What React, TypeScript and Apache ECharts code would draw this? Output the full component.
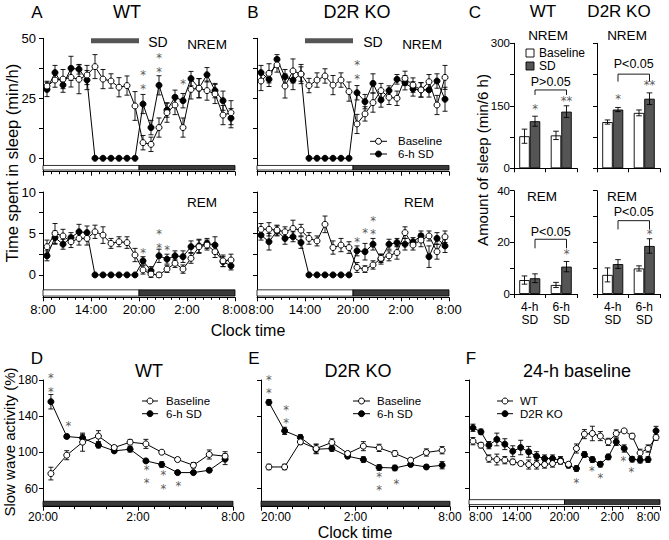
import React, { useEffect, useRef } from 'react';
import * as echarts from 'echarts';

const FONT = '"Liberation Sans", Arial, Helvetica, sans-serif';
const STAR_FONT = '"DejaVu Sans", "Liberation Sans", sans-serif';

// ---------- x positions (hour mid-points) ----------
const HOURS_24 = [0.5, 1.5, 2.5, 3.5, 4.5, 5.5, 6.5, 7.5, 8.5, 9.5, 10.5, 11.5, 12.5, 13.5, 14.5, 15.5, 16.5, 17.5, 18.5, 19.5, 20.5, 21.5, 22.5, 23.5];
const HOURS_12 = [0.5, 1.5, 2.5, 3.5, 4.5, 5.5, 6.5, 7.5, 8.5, 9.5, 10.5, 11.5];
const TICKS_24 = ['8:00', '14:00', '20:00', '2:00', '8:00'];
const TICKS_12 = ['20:00', '2:00', '8:00'];

// ---------- Panel A (WT) ----------
const A_NREM_BASE = [30.1, 32.6, 33.0, 33.7, 32.9, 34.7, 38.2, 33.0, 32.2, 29.6, 30.3, 21.8, 6.5, 5.8, 12.8, 19.0, 22.2, 12.8, 28.7, 29.2, 28.2, 26.8, 18.0, 19.0];
const A_NREM_BASE_ERR = [2, 3, 4, 4, 6, 4, 5, 4, 3, 4, 4, 6, 3, 3, 4, 4, 4, 4, 4, 4, 4, 4, 4, 5];
const A_NREM_SD = [28.7, 35.7, 30.5, 37.5, 37.1, 32.6, 0, 0, 0, 0, 0, 0, 22.6, 12.8, 30.4, 20.1, 25.4, 24.0, 33.2, 29.2, 34.8, 28.2, 24.0, 16.7];
const A_NREM_SD_ERR = [3, 3, 3, 5, 2, 4, 0, 0, 0, 0, 0, 0, 4, 3, 4, 3, 3, 3, 3, 4, 3, 3, 4, 4];
// [x, centre value, number of stacked asterisks]
const A_NREM_STARS = [[12.5, 32.8, 2], [14.5, 39.9, 2], [17.5, 32.2, 1]];

const A_REM_BASE = [3.4, 5.0, 4.7, 4.0, 4.4, 4.4, 5.2, 4.8, 3.8, 4.0, 3.9, 2.4, 0.6, 0.1, 0.0, 0.7, 1.4, 0.7, 2.0, 3.4, 3.6, 2.8, 1.7, 1.8];
const A_REM_BASE_ERR = [0.8, 1.2, 0.8, 0.7, 0.8, 0.8, 0.8, 1.0, 0.6, 0.6, 0.7, 0.8, 0.5, 0.4, 0.3, 0.4, 0.5, 0.5, 0.6, 0.8, 0.6, 0.7, 0.7, 0.7];
const A_REM_SD = [2.3, 4.5, 3.7, 4.5, 5.2, 5.1, 0, 0, 0, 0, 0, 0, 1.7, 0.5, 2.3, 1.9, 2.3, 2.2, 3.4, 3.5, 3.8, 3.6, 1.6, 1.1];
const A_REM_SD_ERR = [0.6, 0.8, 0.6, 0.6, 0.9, 0.8, 0, 0, 0, 0, 0, 0, 0.5, 0.5, 0.8, 0.6, 0.6, 0.7, 0.7, 0.8, 0.6, 1.0, 0.6, 0.5];
const A_REM_STARS = [[12.5, 3.0, 1], [14.5, 4.4, 2], [15.5, 3.3, 1]];

// ---------- Panel B (D2R KO) ----------
const B_NREM_BASE = [32.2, 35.4, 38.9, 30.1, 36.4, 35.1, 30.3, 32.6, 34.3, 30.5, 32.6, 27.8, 14.3, 18.5, 23.2, 28.2, 25.4, 25.0, 33.3, 30.5, 28.5, 31.9, 22.2, 33.7];
const B_NREM_BASE_ERR = [4, 4, 3, 5, 5, 4, 3, 3, 3, 4, 3, 4, 4, 3, 4, 3, 3, 3, 3, 3, 3, 3, 4, 5];
const B_NREM_SD = [35.7, 32.9, 41.2, 34.0, 32.6, 35.1, 0, 0, 0, 0, 0, 0, 27.3, 23.6, 31.2, 24.3, 28.2, 32.9, 31.5, 28.9, 28.5, 28.5, 32.2, 24.6];
const B_NREM_SD_ERR = [3, 3, 2, 3, 4, 3, 0, 0, 0, 0, 0, 0, 3, 3, 4, 3, 2, 2, 3, 3, 3, 3, 3, 5];
const B_NREM_STARS = [[12.5, 37.0, 2]];

const B_REM_BASE = [5.5, 5.5, 5.4, 5.2, 5.6, 5.4, 4.4, 4.1, 6.1, 3.3, 3.6, 3.3, 0.9, 0.7, 1.2, 2.0, 2.3, 2.7, 5.1, 3.6, 4.2, 4.7, 2.8, 4.6];
const B_REM_BASE_ERR = [0.7, 0.8, 0.6, 0.6, 1.0, 0.7, 0.7, 0.6, 1.0, 0.8, 0.8, 0.7, 0.6, 0.4, 0.5, 0.5, 0.6, 0.8, 0.7, 0.6, 0.8, 0.6, 0.9, 0.7];
const B_REM_SD = [4.8, 4.0, 5.3, 4.4, 4.6, 3.9, 0, 0, 0, 0, 0, 0, 2.9, 2.8, 3.7, 1.9, 3.7, 3.9, 3.7, 4.0, 4.7, 2.2, 4.4, 3.5];
const B_REM_SD_ERR = [0.6, 1.0, 0.6, 0.7, 0.6, 0.7, 0, 0, 0, 0, 0, 0, 0.6, 1.0, 0.7, 0.6, 0.6, 0.5, 0.7, 0.5, 0.6, 1.3, 0.7, 0.8];
const B_REM_STARS = [[12.5, 4.3, 1], [13.5, 5.4, 1], [14.5, 6.0, 2]];

// ---------- Panel C (amount of sleep, min/6 h) ----------
const C_CATS = ['4-h\nSD', '6-h\nSD'];
const C_WT_NREM_BASE = [77, 79];
const C_WT_NREM_BASE_ERR = [17, 10];
const C_WT_NREM_SD = [113, 136];
const C_WT_NREM_SD_ERR = [12, 14];
const C_KO_NREM_BASE = [111, 133];
const C_KO_NREM_BASE_ERR = [5, 7];
const C_KO_NREM_SD = [141, 167];
const C_KO_NREM_SD_ERR = [5, 14];
const C_WT_REM_BASE = [5.4, 3.5];
const C_WT_REM_BASE_ERR = [1.6, 1.0];
const C_WT_REM_SD = [6.1, 10.6];
const C_WT_REM_SD_ERR = [1.7, 2.0];
const C_KO_REM_BASE = [7.4, 9.9];
const C_KO_REM_BASE_ERR = [2.7, 1.0];
const C_KO_REM_SD = [11.6, 18.6];
const C_KO_REM_SD_ERR = [1.7, 2.8];
// P-value bracket: [top, end], text height, text, asterisks above SD bars
const C_P_TEXT = ['P>0.05', 'P<0.05', 'P<0.05', 'P<0.05'];
const C_BRACKET = [[188, 176], [226, 208], [21.2, 17.7], [28.4, 25.0]];
const C_P_Y = [208, 250, 24.1, 31.6];
const C_STARS = [[['*', 149], ['**', 168]], [['*', 173], ['**', 205]], [['', 0], ['*', 16.4]], [['', 0], ['*', 24.1]]];

// ---------- Panel D / E (SWA after SD) ----------
const D_BASE = [76.6, 96.9, 111.3, 118.0, 105.4, 111.3, 109.4, 100.2, 92.1, 85.8, 97.7, 95.8];
const D_BASE_ERR = [7, 5, 10, 6, 2, 3, 5, 2, 2, 3, 5, 5];
const D_SD = [156.0, 117.6, 116.0, 108.0, 101.7, 103.5, 90.6, 86.6, 77.7, 77.7, 80.3, 92.5];
const D_SD_ERR = [8, 2, 4, 3, 2, 3, 2, 3, 2, 2, 2, 6];
const D_STARS = [[0.5, 177.6, 2], [1.6, 132, 1], [6.55, 76, 2], [7.6, 69.8, 2], [8.55, 65.5, 1]];

const E_BASE = [83.9, 83.9, 111.6, 104.3, 111.0, 98.8, 106.9, 105.0, 98.8, 91.4, 99.9, 102.4];
const E_BASE_ERR = [3, 3, 3, 5, 4, 2, 5, 4, 3, 2, 4, 4];
const E_SD = [155.3, 123.8, 116.5, 103.5, 104.3, 95.8, 92.1, 83.3, 82.8, 86.6, 83.9, 85.8];
const E_SD_ERR = [3, 4, 3, 5, 3, 2, 3, 3, 3, 2, 2, 4];
const E_STARS = [[0.5, 175.8, 2], [1.6, 142.5, 2], [7.5, 68.3, 2], [8.6, 68.4, 1]];

// ---------- Panel F (24-h baseline SWA) ----------
const F_WT = [112.4, 108.0, 93.2, 92.1, 91.4, 89.5, 87.7, 86.6, 86.6, 86.6, 87.7, 90.2, 86.9, 104.3, 120.2, 120.9, 118.0, 111.6, 120.9, 123.8, 118.0, 99.5, 104.3, 116.5];
const F_WT_ERR = [4, 3, 4, 6, 4, 3, 2, 5, 5, 4, 4, 3, 2, 5, 5, 8, 5, 4, 4, 2, 3, 4, 4, 3];
const F_KO = [127.2, 122.7, 108.0, 114.3, 109.1, 101.3, 105.4, 100.6, 95.8, 93.2, 93.2, 91.4, 85.8, 82.2, 97.7, 92.1, 86.9, 95.0, 111.6, 104.3, 92.5, 91.4, 92.1, 123.8];
const F_KO_ERR = [4, 3, 4, 7, 6, 6, 8, 6, 5, 4, 4, 4, 3, 3, 3, 3, 3, 3, 4, 4, 3, 3, 3, 5];
const F_STARS = [[13.5, 69.2, 1], [15.45, 82.2, 1], [16.5, 74.7, 1], [19.4, 93.2, 1], [20.4, 81, 1]];

// ---------- layout ----------
const GRIDS = [
  { left: 43, top: 38.3, width: 192, height: 133.4 }, // 0 A NREM
  { left: 43, top: 192, width: 192, height: 105.3 }, // 1 A REM
  { left: 257, top: 38.3, width: 192, height: 133.4 }, // 2 B NREM
  { left: 257, top: 192, width: 192, height: 105.3 }, // 3 B REM
  { left: 514, top: 43.3, width: 63, height: 125 }, // 4 C WT NREM
  { left: 597, top: 43.3, width: 63, height: 125 }, // 5 C KO NREM
  { left: 514, top: 190.7, width: 63, height: 103.3 }, // 6 C WT REM
  { left: 597, top: 190.7, width: 63, height: 103.3 }, // 7 C KO REM
  { left: 43, top: 380, width: 190, height: 126.7 }, // 8 D
  { left: 261, top: 380, width: 189, height: 126.7 }, // 9 E
  { left: 469, top: 380, width: 191, height: 126.7 }, // 10 F
];

const BW = 10.5;
const BLACK = '#000';
const STAR_COLOR = '#5a5a5a';
const DARK = '#3a3a3a';
const BAR_DARK = '#555';
const STAR_FS = 11.5;
const STAR_GAP = 13.6;
const LEG_FS = 11.5;

const axisLine = { show: true, onZero: false, lineStyle: { color: BLACK, width: 1 } };

function xTime(gi: number, hours: number, ticks: string[], showLabels: boolean, fs: number, margin: number, opts: any = {}) {
  const { alignMin, alignMax, padMin } = opts;
  const label: any = {
    show: showLabels, fontSize: fs, color: BLACK, fontFamily: FONT, margin,
    formatter: (v: number) => {
      const t = ticks[Math.round(v / 6)] ?? '';
      return padMin && v === 0 ? `{m|${t}}` : t;
    },
  };
  if (padMin) label.rich = { m: { fontSize: fs, fontFamily: FONT, color: BLACK, padding: [0, 0, 0, padMin] } };
  if (alignMin) label.alignMinLabel = alignMin;
  if (alignMax) label.alignMaxLabel = alignMax;
  return {
    type: 'value', gridIndex: gi, min: 0, max: hours, interval: 6,
    axisLine,
    axisTick: { show: true, length: 4, lineStyle: { color: BLACK, width: 1 } },
    minorTick: { show: true, splitNumber: 6, length: 2.5, lineStyle: { color: BLACK, width: 1 } },
    splitLine: { show: false },
    axisLabel: label,
  };
}

function yVal(gi: number, min: number, max: number, labels: number[], ticks: number[], showLabels: boolean, fs: number, margin: number) {
  return {
    type: 'value', gridIndex: gi, min, max,
    axisLine,
    axisTick: { show: true, length: 4, customValues: ticks, lineStyle: { color: BLACK, width: 1 } },
    splitLine: { show: false },
    axisLabel: { show: showLabels, customValues: labels, fontSize: fs, color: BLACK, fontFamily: FONT, margin },
  };
}

function xCat(gi: number, showLabels: boolean) {
  return {
    type: 'category', gridIndex: gi, data: C_CATS,
    axisLine: { show: true, lineStyle: { color: BLACK, width: 1 } },
    axisTick: { show: true, length: 4, lineStyle: { color: BLACK, width: 1 } },
    splitLine: { show: false },
    axisLabel: { show: showLabels, fontSize: 12, lineHeight: 13.5, color: BLACK, fontFamily: FONT, margin: 6 },
  };
}

function lineSeries(name: string, gi: number, xs: number[], vals: number[], filled: boolean, markArea?: any) {
  const s: any = {
    type: 'line', name, xAxisIndex: gi, yAxisIndex: gi,
    data: xs.map((x, i) => [x, vals[i]]),
    symbol: 'circle', symbolSize: 6, showSymbol: true, silent: true,
    lineStyle: { color: BLACK, width: 1 },
    itemStyle: { color: filled ? BLACK : '#fff', borderColor: BLACK, borderWidth: 1 },
    z: filled ? 3 : 4,
  };
  if (markArea) s.markArea = markArea;
  return s;
}

function errSeries(gi: number, xs: number[], vals: number[], errs: number[]) {
  return {
    type: 'custom', xAxisIndex: gi, yAxisIndex: gi, silent: true, z: 2, clip: false,
    data: xs.map((x, i) => [x, vals[i], errs[i]]),
    encode: { x: 0, y: 1 },
    renderItem: (_p: any, api: any) => {
      const x = api.value(0), v = api.value(1), e = api.value(2);
      if (!e) return { type: 'group', children: [] };
      const a = api.coord([x, v + e]);
      const b = api.coord([x, v - e]);
      const st = { stroke: BLACK, lineWidth: 0.9 };
      const cap = 2.5;
      return {
        type: 'group', children: [
          { type: 'line', shape: { x1: a[0], y1: a[1], x2: b[0], y2: b[1] }, style: st },
          { type: 'line', shape: { x1: a[0] - cap, y1: a[1], x2: a[0] + cap, y2: a[1] }, style: st },
          { type: 'line', shape: { x1: b[0] - cap, y1: b[1], x2: b[0] + cap, y2: b[1] }, style: st },
        ],
      };
    },
  };
}

function starText(text: string, x: number, y: number) {
  return {
    type: 'text', x, y: y + STAR_FS * 0.22,
    style: { text, fontSize: STAR_FS, fontFamily: STAR_FONT, fill: STAR_COLOR, align: 'center', verticalAlign: 'middle' },
  };
}

function starSeries(gi: number, pts: number[][]) {
  return {
    type: 'custom', xAxisIndex: gi, yAxisIndex: gi, silent: true, z: 6, clip: false,
    data: pts, encode: { x: 0, y: 1 },
    renderItem: (_p: any, api: any) => {
      const c = api.coord([api.value(0), api.value(1)]);
      const n = api.value(2);
      const children: any[] = [];
      for (let k = 0; k < n; k++) {
        children.push(starText('*', c[0], c[1] + (k - (n - 1) / 2) * STAR_GAP));
      }
      return { type: 'group', children };
    },
  };
}

function dayNight(segs: [number, number, number, number, string][]) {
  return {
    silent: true,
    data: segs.map(([x0, x1, y0, y1, color]) => [
      { xAxis: x0, yAxis: y1, itemStyle: { color, borderColor: BLACK, borderWidth: 0.8 } },
      { xAxis: x1, yAxis: y0 },
    ]),
  };
}

function sdBar(gi: number) {
  return {
    type: 'line', xAxisIndex: gi, yAxisIndex: gi, silent: true, symbol: 'none', z: 2,
    data: [[6, 49], [12, 49]],
    lineStyle: { color: BAR_DARK, width: 5, cap: 'butt' },
  };
}

function barPanel(gi: number, base: number[], baseErr: number[], sd: number[], sdErr: number[], note: number) {
  const errData: number[][] = [];
  base.forEach((v, i) => errData.push([i, v, baseErr[i], -1]));
  sd.forEach((v, i) => errData.push([i, v, sdErr[i], 1]));
  const [bTop, bEnd] = C_BRACKET[note];
  const stars = C_STARS[note];
  return [
    {
      type: 'bar', name: 'Baseline', xAxisIndex: gi, yAxisIndex: gi, data: base, barWidth: BW, barGap: '0%', silent: true,
      itemStyle: { color: '#fff', borderColor: BLACK, borderWidth: 0.9 }, z: 2,
    },
    {
      type: 'bar', name: 'SD', xAxisIndex: gi, yAxisIndex: gi, data: sd, barWidth: BW, barGap: '0%', silent: true,
      itemStyle: { color: BAR_DARK, borderColor: BLACK, borderWidth: 0.9 }, z: 2,
    },
    {
      type: 'custom', xAxisIndex: gi, yAxisIndex: gi, silent: true, z: 3, clip: false,
      data: errData, encode: { x: 0, y: 1 },
      renderItem: (_p: any, api: any) => {
        const c = api.value(0), v = api.value(1), e = api.value(2), s = api.value(3);
        const a = api.coord([c, v + e]);
        const b = api.coord([c, v - e]);
        const x = a[0] + s * BW / 2;
        const st = { stroke: BLACK, lineWidth: 0.9 };
        const cap = 2.8;
        return {
          type: 'group', children: [
            { type: 'line', shape: { x1: x, y1: a[1], x2: x, y2: b[1] }, style: st },
            { type: 'line', shape: { x1: x - cap, y1: a[1], x2: x + cap, y2: a[1] }, style: st },
            { type: 'line', shape: { x1: x - cap, y1: b[1], x2: x + cap, y2: b[1] }, style: st },
          ],
        };
      },
    },
    {
      type: 'custom', xAxisIndex: gi, yAxisIndex: gi, silent: true, z: 4, clip: false,
      data: [[0, bTop]], encode: { x: 0, y: 1 },
      renderItem: (_p: any, api: any) => {
        const x0 = api.coord([0, bTop])[0] + BW / 2;
        const x1 = api.coord([1, bTop])[0] + BW / 2;
        const yT = api.coord([0, bTop])[1];
        const yE = api.coord([0, bEnd])[1];
        const yP = api.coord([0, C_P_Y[note]])[1];
        const children: any[] = [
          { type: 'polyline', shape: { points: [[x0, yE], [x0, yT], [x1, yT], [x1, yE]] }, style: { stroke: BLACK, lineWidth: 0.9, fill: 'none' } },
          { type: 'text', x: (x0 + x1) / 2, y: yP, style: { text: C_P_TEXT[note], fontSize: 12.5, fontFamily: FONT, fill: BLACK, align: 'center', verticalAlign: 'middle' } },
        ];
        stars.forEach(([t, val], i) => {
          if (!t) return;
          const p = api.coord([i, val as number]);
          children.push(starText(t as string, p[0] + BW / 2, p[1]));
        });
        return { type: 'group', children };
      },
    },
  ];
}

function txt(text: string, x: number, y: number, fs: number, extra: any = {}) {
  return {
    type: 'text', x, y, silent: true,
    style: { text, fontSize: fs, fontFamily: FONT, fill: BLACK, align: 'center', verticalAlign: 'middle', ...extra },
  };
}
function vtxt(text: string, x: number, y: number, fs: number) {
  return { ...txt(text, x, y, fs), rotation: Math.PI / 2 };
}
function legendLine(x1: number, x2: number, tx: number, y: number, filled: boolean, label: string) {
  return [
    { type: 'line', silent: true, shape: { x1, y1: y, x2, y2: y }, style: { stroke: BLACK, lineWidth: 1 } },
    { type: 'circle', silent: true, shape: { cx: (x1 + x2) / 2, cy: y, r: 3 }, style: { fill: filled ? BLACK : '#fff', stroke: BLACK, lineWidth: 1 } },
    txt(label, tx, y, LEG_FS, { align: 'left' }),
  ];
}

function buildOption() {
  const ldTop24 = (yTop: number, yBot: number) => dayNight([[0, 12, yBot, yTop, '#fff'], [12, 24, yBot, yTop, DARK]]);
  const series: any[] = [
    // A NREM
    errSeries(0, HOURS_24, A_NREM_SD, A_NREM_SD_ERR),
    errSeries(0, HOURS_24, A_NREM_BASE, A_NREM_BASE_ERR),
    lineSeries('6-h SD', 0, HOURS_24, A_NREM_SD, true),
    lineSeries('Baseline', 0, HOURS_24, A_NREM_BASE, false, ldTop24(-3.0, -4.9)),
    sdBar(0),
    starSeries(0, A_NREM_STARS),
    // A REM
    errSeries(1, HOURS_24, A_REM_SD, A_REM_SD_ERR),
    errSeries(1, HOURS_24, A_REM_BASE, A_REM_BASE_ERR),
    lineSeries('6-h SD', 1, HOURS_24, A_REM_SD, true),
    lineSeries('Baseline', 1, HOURS_24, A_REM_BASE, false, ldTop24(-1.8, -2.55)),
    starSeries(1, A_REM_STARS),
    // B NREM
    errSeries(2, HOURS_24, B_NREM_SD, B_NREM_SD_ERR),
    errSeries(2, HOURS_24, B_NREM_BASE, B_NREM_BASE_ERR),
    lineSeries('6-h SD', 2, HOURS_24, B_NREM_SD, true),
    lineSeries('Baseline', 2, HOURS_24, B_NREM_BASE, false, ldTop24(-3.0, -4.9)),
    sdBar(2),
    starSeries(2, B_NREM_STARS),
    // B REM
    errSeries(3, HOURS_24, B_REM_SD, B_REM_SD_ERR),
    errSeries(3, HOURS_24, B_REM_BASE, B_REM_BASE_ERR),
    lineSeries('6-h SD', 3, HOURS_24, B_REM_SD, true),
    lineSeries('Baseline', 3, HOURS_24, B_REM_BASE, false, ldTop24(-1.8, -2.55)),
    starSeries(3, B_REM_STARS),
    // C
    ...barPanel(4, C_WT_NREM_BASE, C_WT_NREM_BASE_ERR, C_WT_NREM_SD, C_WT_NREM_SD_ERR, 0),
    ...barPanel(5, C_KO_NREM_BASE, C_KO_NREM_BASE_ERR, C_KO_NREM_SD, C_KO_NREM_SD_ERR, 1),
    ...barPanel(6, C_WT_REM_BASE, C_WT_REM_BASE_ERR, C_WT_REM_SD, C_WT_REM_SD_ERR, 2),
    ...barPanel(7, C_KO_REM_BASE, C_KO_REM_BASE_ERR, C_KO_REM_SD, C_KO_REM_SD_ERR, 3),
    // D
    errSeries(8, HOURS_12, D_BASE, D_BASE_ERR),
    errSeries(8, HOURS_12, D_SD, D_SD_ERR),
    lineSeries('Baseline', 8, HOURS_12, D_BASE, false, dayNight([[0, 12, 41, 46, DARK]])),
    lineSeries('6-h SD', 8, HOURS_12, D_SD, true),
    starSeries(8, D_STARS),
    // E
    errSeries(9, HOURS_12, E_BASE, E_BASE_ERR),
    errSeries(9, HOURS_12, E_SD, E_SD_ERR),
    lineSeries('Baseline', 9, HOURS_12, E_BASE, false, dayNight([[0, 12, 41, 46, DARK]])),
    lineSeries('6-h SD', 9, HOURS_12, E_SD, true),
    starSeries(9, E_STARS),
    // F
    errSeries(10, HOURS_24, F_WT, F_WT_ERR),
    errSeries(10, HOURS_24, F_KO, F_KO_ERR),
    lineSeries('WT', 10, HOURS_24, F_WT, false, dayNight([[0, 12, 42.3, 47.8, '#fff'], [12, 24, 42.3, 47.8, DARK]])),
    lineSeries('D2R KO', 10, HOURS_24, F_KO, true),
    starSeries(10, F_STARS),
  ];

  const xAxis = [
    xTime(0, 24, TICKS_24, false, 13, 6),
    xTime(1, 24, TICKS_24, true, 13, 6),
    xTime(2, 24, TICKS_24, false, 13, 6),
    xTime(3, 24, TICKS_24, true, 13, 6, { padMin: 8 }),
    xCat(4, false), xCat(5, false), xCat(6, true), xCat(7, true),
    xTime(8, 12, TICKS_12, true, 12, 4),
    xTime(9, 12, TICKS_12, true, 12, 4, { alignMin: 'left' }),
    xTime(10, 24, TICKS_24, true, 12, 4, { alignMin: 'left', alignMax: 'right' }),
  ];
  const yAxis = [
    yVal(0, -5.6, 50, [0, 25, 50], [0, 12.5, 25, 37.5, 50], true, 13, 7),
    yVal(1, -2.7, 10, [0, 5, 10], [0, 2.5, 5, 7.5, 10], true, 13, 7),
    yVal(2, -5.6, 50, [0, 25, 50], [0, 12.5, 25, 37.5, 50], false, 13, 7),
    yVal(3, -2.7, 10, [0, 5, 10], [0, 2.5, 5, 7.5, 10], false, 13, 7),
    yVal(4, 0, 300, [0, 150, 300], [0, 75, 150, 225, 300], true, 11.5, 4),
    yVal(5, 0, 300, [0, 150, 300], [0, 75, 150, 225, 300], false, 11.5, 4),
    yVal(6, 0, 40, [0, 20, 40], [0, 10, 20, 30, 40], true, 11.5, 4),
    yVal(7, 0, 40, [0, 20, 40], [0, 10, 20, 30, 40], false, 11.5, 4),
    yVal(8, 40, 180, [60, 100, 140, 180], [60, 100, 140, 180], true, 12, 5),
    yVal(9, 40, 180, [60, 100, 140, 180], [60, 100, 140, 180], false, 12, 5),
    yVal(10, 40, 180, [60, 100, 140, 180], [60, 100, 140, 180], false, 12, 5),
  ];

  const graphic: any[] = [
    // panel letters & titles
    txt('A', 37, 12, 17), txt('WT', 127, 12, 18),
    txt('B', 253, 12, 17), txt('D2R KO', 357, 12, 18),
    txt('C', 475, 12, 17), txt('WT', 543, 11, 17), txt('D2R KO', 619, 11, 17),
    txt('D', 37, 358, 17), txt('WT', 149, 371, 18),
    txt('E', 254, 358, 17), txt('D2R KO', 358, 371, 18),
    txt('F', 471, 358, 17), txt('24-h baseline', 577, 371, 18),
    // in-panel labels
    txt('SD', 158, 42, 14), txt('NREM', 207, 44, 13.5),
    txt('SD', 373, 42, 14), txt('NREM', 422, 44, 13.5),
    txt('REM', 202, 202, 13.5), txt('REM', 419, 202, 13.5),
    txt('NREM', 548, 35, 13.5), txt('NREM', 627, 35, 13.5),
    txt('REM', 542, 196, 13.5), txt('REM', 622, 196, 13.5),
    // axis titles
    txt('Clock time', 248, 330, 16), txt('Clock time', 355, 532, 16),
    vtxt('Time spent in sleep (min/h)', 12, 163, 16.5),
    vtxt('Amount of sleep (min/6 h)', 482, 160, 15),
    vtxt('Slow wave activity (%)', 9, 442, 15),
    // legends
    ...legendLine(370, 387, 398, 141.3, false, 'Baseline'),
    ...legendLine(370, 387, 398, 154, true, '6-h SD'),
    ...legendLine(142, 158, 166, 401, false, 'Baseline'),
    ...legendLine(142, 158, 166, 413.7, true, '6-h SD'),
    ...legendLine(353, 370, 377, 401, false, 'Baseline'),
    ...legendLine(353, 370, 377, 413.7, true, '6-h SD'),
    ...legendLine(497, 513, 520, 401, false, 'WT'),
    ...legendLine(497, 513, 520, 413.7, true, 'D2R KO'),
    { type: 'rect', silent: true, shape: { x: 526, y: 49, width: 8, height: 8 }, style: { fill: '#fff', stroke: BLACK, lineWidth: 0.9 } },
    txt('Baseline', 539, 53, LEG_FS + 0.5, { align: 'left' }),
    { type: 'rect', silent: true, shape: { x: 526, y: 62, width: 8, height: 8 }, style: { fill: BAR_DARK, stroke: BLACK, lineWidth: 0.9 } },
    txt('SD', 539, 66, LEG_FS + 0.5, { align: 'left' }),
  ];

  return {
    animation: false,
    backgroundColor: '#fff',
    textStyle: { fontFamily: FONT, color: BLACK },
    grid: GRIDS.map((g) => ({ ...g, containLabel: false })),
    xAxis,
    yAxis,
    series,
    graphic,
  };
}

export default function App() {
  const ref = useRef<HTMLDivElement>(null);
  useEffect(() => {
    if (!ref.current) return;
    const chart = echarts.init(ref.current, null, { renderer: 'svg' });
    chart.setOption(buildOption() as any);
    return () => chart.dispose();
  }, []);
  return (
    <div
      ref={ref}
      style={{ position: 'absolute', left: 0, top: 0, width: 669, height: 540, background: '#fff' }}
    />
  );
}
